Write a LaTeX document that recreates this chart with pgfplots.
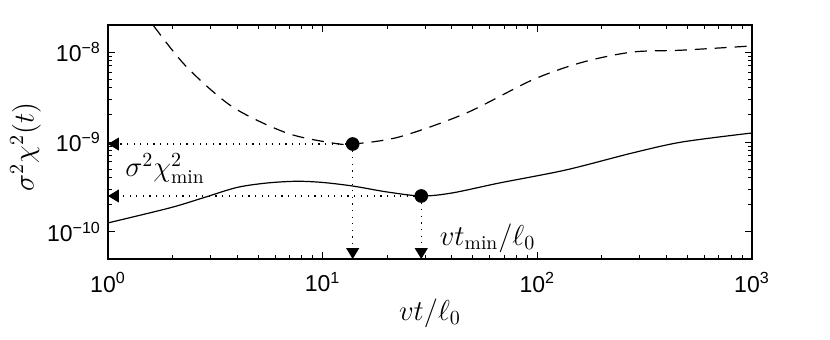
\documentclass[border=0pt]{standalone}
\usepackage{fontspec}
\usepackage{pgfplots}
\pgfplotsset{compat=1.18}
\usetikzlibrary{arrows.meta}
\newfontfamily\tickfont{Liberation Sans}

\pgfplotstableread{
x y
1 1.26e-10
1.94 1.85e-10
2.77 2.39e-10
3.98 3.12e-10
5.5 3.5e-10
7.57 3.66e-10
10 3.55e-10
13.8 3.24e-10
20 2.78e-10
28.8 2.51e-10
40 2.71e-10
66.5 3.5e-10
136 4.89e-10
277 7.55e-10
472 1.0e-9
1000 1.26e-9
}\solid

\pgfplotstableread{
x y
1.45 3.0e-8
1.62 2.0e-8
2.33 6.8e-9
3.81 2.45e-9
6.8 1.26e-9
11.1 9.75e-10
13.8 9.5e-10
22.8 1.14e-9
46.7 2.1e-9
94.8 4.9e-9
162 7.7e-9
277 1.0e-8
472 1.05e-8
1000 1.17e-8
}\dashedc

\tikzset{
  guide/.style={line width=0.6pt, dash pattern=on 0.6pt off 2.7pt},
  tip/.style={-{Triangle[length=5.5pt,width=6.5pt]}}
}

\begin{document}
\begin{tikzpicture}
\begin{loglogaxis}[
  scale only axis,
  width=322pt, height=117pt,
  xmin=1, xmax=1000,
  ymin=5e-11, ymax=2e-8,
  axis line style={line width=0.6pt},
  tick style={black, line width=0.5pt},
  major tick length=3.5pt,
  minor tick length=2.2pt,
  xtick={1,10,100,1000},
  xticklabels={10\textsuperscript{0},10\textsuperscript{1},10\textsuperscript{2},10\textsuperscript{3}},
  ytick={1e-10,1e-9,1e-8},
  yticklabels={10\textsuperscript{−10},10\textsuperscript{−9},10\textsuperscript{−8}},
  ticklabel style={font=\fontsize{11.5}{13}\tickfont},
  xticklabel style={yshift=-3pt},
  xlabel={$vt/\ell_0$},
  ylabel={$\sigma^2\chi^2(t)$},
  label style={font=\fontsize{14}{16}\selectfont},
  xlabel style={at={(rel axis cs:0.5,-0.261)}, anchor=base},
  ylabel style={at={(rel axis cs:-0.128,0.479)}, anchor=center},
]
\addplot[black, line width=0.6pt, smooth] table {\solid};
\addplot[black, line width=0.6pt, smooth, dash pattern=on 6pt off 4pt] table {\dashedc};

% guides to the minima
\addplot[guide, tip] coordinates {(13.8,9.5e-10) (1,9.5e-10)};
\addplot[guide, tip] coordinates {(13.8,9.5e-10) (13.8,5e-11)};
\addplot[guide, tip] coordinates {(28.8,2.51e-10) (1,2.51e-10)};
\addplot[guide, tip] coordinates {(28.8,2.51e-10) (28.8,5e-11)};

\addplot[only marks, mark=*, mark size=3.2pt, black] coordinates {(13.8,9.5e-10) (28.8,2.51e-10)};

\node[anchor=base west, inner sep=0, font=\fontsize{14}{16}\selectfont] at (axis cs:1.2,4.1e-10) {$\sigma^2\chi^2_{\min}$};
\node[anchor=base west, inner sep=0, font=\fontsize{14}{16}\selectfont] at (axis cs:35,7.15e-11) {$vt_{\min}/\ell_0$};

\coordinate (bbll) at (rel axis cs:-0.1677,-0.346);
\coordinate (bbur) at (rel axis cs:1.1211,1.1068);
\end{loglogaxis}
\pgfresetboundingbox
\useasboundingbox (bbll) rectangle (bbur);
\end{tikzpicture}
\end{document}
